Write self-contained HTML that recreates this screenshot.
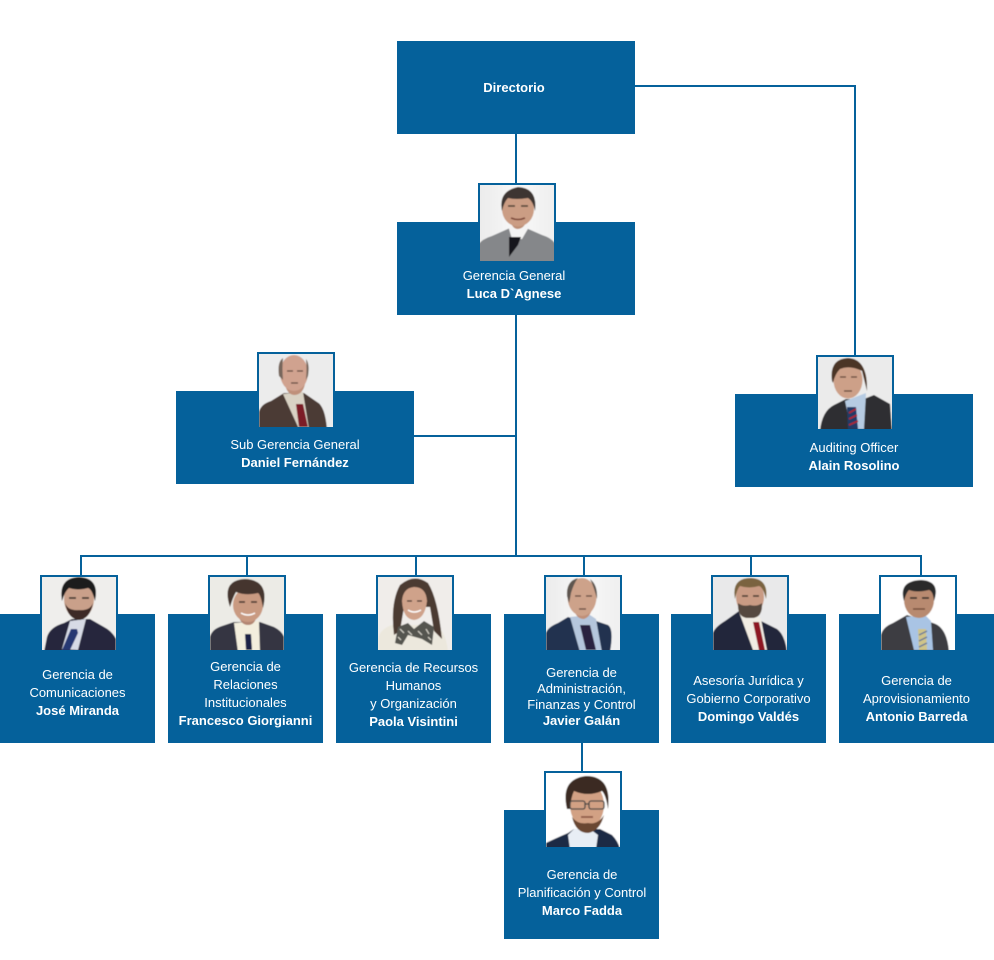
<!DOCTYPE html>
<html lang="es">
<head>
<meta charset="utf-8">
<title>Organigrama</title>
<style>
html,body{margin:0;padding:0;background:#fff;width:994px;height:960px;overflow:hidden}
svg.main{display:block}
text{font-family:"Liberation Sans",Arial,sans-serif;font-size:13px;fill:#fff;text-anchor:middle}
.b{font-weight:bold}
</style>
</head>
<body>
<svg class="main" xmlns="http://www.w3.org/2000/svg" width="994" height="960" viewBox="0 0 994 960">
<defs>
<filter id="s" x="-5%" y="-5%" width="110%" height="110%"><feGaussianBlur stdDeviation="0.6"/></filter>
<linearGradient id="gs" x1="0" y1="0" x2="1" y2="0"><stop offset="0" stop-color="#ebebeb"/><stop offset=".5" stop-color="#f8f8f8"/><stop offset="1" stop-color="#efefef"/></linearGradient>
</defs>
<rect width="994" height="960" fill="#fff"/>

<!-- connectors -->
<g fill="#05619b">
<rect x="515" y="134" width="2" height="50"/>
<rect x="635" y="85" width="221" height="2"/>
<rect x="854" y="85" width="2" height="271"/>
<rect x="515" y="315" width="2" height="242"/>
<rect x="414" y="435" width="102" height="2"/>
<rect x="80" y="555" width="842" height="2"/>
<rect x="80" y="555" width="2" height="21"/>
<rect x="246" y="555" width="2" height="21"/>
<rect x="415" y="555" width="2" height="21"/>
<rect x="583" y="555" width="2" height="21"/>
<rect x="750" y="555" width="2" height="21"/>
<rect x="920" y="555" width="2" height="21"/>
<rect x="581" y="743" width="2" height="29"/>

<!-- boxes -->
<rect x="397" y="41" width="238" height="93"/>
<rect x="397" y="222" width="238" height="93"/>
<rect x="176" y="391" width="238" height="93"/>
<rect x="735" y="394" width="238" height="93"/>
<rect x="0" y="614" width="155" height="129"/>
<rect x="168" y="614" width="155" height="129"/>
<rect x="336" y="614" width="155" height="129"/>
<rect x="504" y="614" width="155" height="129"/>
<rect x="671" y="614" width="155" height="129"/>
<rect x="839" y="614" width="155" height="129"/>
<rect x="504" y="810" width="155" height="129"/>

<!-- photo frames -->
<rect x="478" y="183" width="78" height="78"/>
<rect x="257" y="352" width="78" height="75"/>
<rect x="816" y="355" width="78" height="74"/>
<rect x="40" y="575" width="78" height="75"/>
<rect x="208" y="575" width="78" height="75"/>
<rect x="376" y="575" width="78" height="75"/>
<rect x="544" y="575" width="78" height="75"/>
<rect x="711" y="575" width="78" height="75"/>
<rect x="879" y="575" width="78" height="75"/>
<rect x="544" y="771" width="78" height="76"/>
</g>

<!-- Luca -->
<svg x="480" y="185" width="74" height="76" viewBox="0 0 74 76"><g filter="url(#s)">
<rect x="-2" y="-2" width="78" height="80" fill="url(#gs)"/>
<path d="M-2 78V60Q2 54 12 51L30 43H46L62 50Q72 53 76 60V78Z" fill="#85878a"/>
<path d="M29 44L32 54H42L49 42L46 34H30Z" fill="#f4f4f4"/>
<path d="M29 52H41L38 60L29 72Z" fill="#15181c"/>
<path d="M30 32Q31 44 38 44Q46 43 47 32Z" fill="#bd8f76"/>
<ellipse cx="38" cy="24" rx="16" ry="17.500" fill="#cb9d84"/>
<path d="M22 26Q18 6 38 2Q58 3 55 26Q53 16 48 13Q36 15 28 13Q24 17 22 26Z" fill="#3e3630"/>
<path d="M28 21h7M41 21h7" stroke="#4a3a30" stroke-width="1.400"/>
<path d="M31 33Q38 36 45 33" stroke="#7a4436" stroke-width="1.500" fill="none"/>
</g></svg>

<!-- Daniel -->
<svg x="259" y="354" width="74" height="73" viewBox="0 0 74 73"><g filter="url(#s)">
<rect x="-2" y="-2" width="78" height="78" fill="#ececec"/>
<path d="M0 75V58Q2 50 12 47L25 39H45L58 48Q66 52 68 75Z" fill="#4b3a34"/>
<path d="M24 40L40 75H50L44 38Z" fill="#d9d2c4"/>
<path d="M37 50H44L49 73H40Z" fill="#7c1d26"/>
<path d="M26 30Q28 41 36 41Q44 40 46 30Z" fill="#bf907a"/>
<ellipse cx="35" cy="19" rx="14" ry="18" fill="#d0a28f"/>
<path d="M20 22Q18 8 24 4Q23 14 24 26ZM49 22Q51 10 47 5Q48 14 47 26Z" fill="#77665c"/>
<path d="M28 17h6M38 17h6M32 29h7" stroke="#5c443a" stroke-width="1.300"/>
</g></svg>

<!-- Alain -->
<svg x="818" y="357" width="74" height="72" viewBox="0 0 74 72"><g filter="url(#s)">
<rect x="-2" y="-2" width="78" height="78" fill="#ebebeb"/>
<path d="M2 74Q4 54 16 48L28 42H46L56 38L72 47L74 74Z" fill="#2e2d30"/>
<path d="M27 44L33 72H46L48 36Z" fill="#b6cbe2"/>
<path d="M29 50H38L40 72H30Z" fill="#233a66"/>
<path d="M31 56L38 52M31 62L39 58M31 68L40 64" stroke="#b1262e" stroke-width="1.600"/>
<ellipse cx="30" cy="23" rx="14.500" ry="18.500" fill="#cda088"/>
<path d="M14 24Q11 2 30 1Q50 2 49 34Q46 22 44 14Q32 8 22 12Q17 17 15 26Z" fill="#4c3527"/>
<path d="M22 20h6M33 20h6M26 34h8" stroke="#5a3c30" stroke-width="1.200"/>
</g></svg>

<!-- José -->
<svg x="42" y="577" width="74" height="73" viewBox="0 0 74 73"><g filter="url(#s)">
<rect x="-2" y="-2" width="78" height="78" fill="#efeeec"/>
<path d="M2 75L5 60Q8 50 22 46L30 42H48L62 50Q70 54 74 62V75Z" fill="#25283c"/>
<path d="M20 72L28 44L44 42L36 73Z" fill="#d7dbe6"/>
<path d="M29 52H35L36 56L28 73H20Z" fill="#273773"/>
<ellipse cx="37" cy="22" rx="15" ry="20" fill="#c9a08a"/>
<path d="M23 26Q26 42 37 43Q48 42 51 26Q48 34 37 33Q26 34 23 26Z" fill="#3c2b25"/>
<path d="M20 24Q16 1 37 0Q58 1 53 24Q50 12 46 11Q36 14 27 11Q23 14 20 24Z" fill="#1f1a1a"/>
<path d="M27 21h7M40 21h7" stroke="#26201e" stroke-width="1.400"/>
</g></svg>

<!-- Francesco -->
<svg x="210" y="577" width="74" height="73" viewBox="0 0 74 73"><g filter="url(#s)">
<rect x="-2" y="-2" width="78" height="78" fill="#ecebe6"/>
<path d="M0 75V60Q2 52 12 49L24 45H50L64 50Q72 54 74 60V75Z" fill="#363643"/>
<path d="M24 46L28 75H50L49 44Z" fill="#f3eedd"/>
<path d="M35 57H41L42 73H36Z" fill="#1c2246"/>
<path d="M28 36Q30 48 38 48Q46 48 47 36Z" fill="#b38672"/>
<ellipse cx="38" cy="28" rx="15" ry="17" fill="#c99a81"/>
<path d="M20 30Q11 3 35 2Q60 3 53 31Q51 18 48 16Q36 19 26 15Q23 20 20 30Z" fill="#44362e"/>
<path d="M29 25h6M41 25h6" stroke="#3a2c25" stroke-width="1.400"/>
<path d="M31 36Q38 40 45 36" stroke="#fff" stroke-width="1.500" fill="none"/>
</g></svg>

<!-- Paola -->
<svg x="378" y="577" width="74" height="73" viewBox="0 0 74 73"><g filter="url(#s)">
<rect x="-2" y="-2" width="78" height="78" fill="#f0edea"/>
<path d="M0 75V62Q2 52 14 48L56 48Q68 52 70 75Z" fill="#ece8dd"/>
<path d="M16 58Q12 26 22 8Q36 -4 50 6Q60 22 64 62L56 54L52 30L26 30L22 54Z" fill="#4c3a30"/>
<path d="M24 24Q25 42 36 43Q47 42 49 24Q48 10 36 10Q25 11 24 24Z" fill="#cfa28a"/>
<path d="M30 46L20 50L17 66L24 68L30 58L44 62L54 68L56 50L46 44L36 52Z" fill="#55544f"/>
<path d="M22 52l4 4M30 54l4 4M40 54l4 4M48 52l3 5M20 60l3 3M50 60l3 3" stroke="#d6d2c8" stroke-width="1.200"/>
<path d="M30 33Q36 37 43 33" stroke="#fff" stroke-width="1.500" fill="none"/>
<path d="M29 24h5M39 24h5" stroke="#3a2a22" stroke-width="1.200"/>
</g></svg>

<!-- Javier -->
<svg x="546" y="577" width="74" height="73" viewBox="0 0 74 73"><g filter="url(#s)">
<rect x="-2" y="-2" width="78" height="78" fill="url(#gs)"/>
<path d="M0 75V56Q2 50 12 46L22 40L34 44L50 44L62 48Q68 52 64 75Z" fill="#20324f"/>
<path d="M24 40L34 75H56L50 42L44 38Z" fill="#b5c6dc"/>
<path d="M34 48H44L50 73H40Z" fill="#2b2440"/>
<path d="M28 32Q30 42 38 42Q44 40 46 32Z" fill="#c09079"/>
<ellipse cx="36" cy="20" rx="14.500" ry="19" fill="#cda28a"/>
<path d="M21 19Q20 4 32 1Q28 6 25 16Q24 22 23 26ZM44 2Q52 8 51 22Q48 10 44 2Z" fill="#5f564f"/>
<path d="M29 19h6M40 19h6M33 32h7" stroke="#5a4238" stroke-width="1.300"/>
</g></svg>

<!-- Domingo -->
<svg x="713" y="577" width="74" height="73" viewBox="0 0 74 73"><g filter="url(#s)">
<rect x="-2" y="-2" width="78" height="78" fill="#e9e9ea"/>
<path d="M0 75V56Q2 50 12 44L26 34L48 44L64 52Q72 58 74 75Z" fill="#23253a"/>
<path d="M26 35L40 73H54L48 42L42 36Z" fill="#f1ece3"/>
<path d="M40 45H46L52 73H46Z" fill="#8e1622"/>
<ellipse cx="37" cy="20" rx="14" ry="18" fill="#c99b84"/>
<path d="M25 26Q24 42 37 41Q50 42 49 26Q44 30 37 28Q30 30 25 26Z" fill="#574a40"/>
<path d="M22 22Q18 1 38 1Q56 2 53 22Q50 10 46 9Q36 12 27 9Q24 12 22 22Z" fill="#7a6440"/>
<path d="M29 19h6M40 19h6" stroke="#3f3028" stroke-width="1.400"/>
</g></svg>

<!-- Antonio -->
<svg x="881" y="577" width="74" height="73" viewBox="0 0 74 73"><g filter="url(#s)">
<rect x="-2" y="-2" width="78" height="78" fill="#fff"/>
<path d="M0 75V58Q2 50 12 46L26 38L52 46Q66 50 68 75Z" fill="#3d3d42"/>
<path d="M25 40L33 73H52L50 44L44 38Z" fill="#a9c4e4"/>
<path d="M37 52H45L46 73H38Z" fill="#cfc48a"/>
<path d="M38 58L46 54M38 64L46 60M38 70L46 66" stroke="#66789a" stroke-width="1.300"/>
<ellipse cx="38" cy="23" rx="15" ry="18" fill="#b88a70"/>
<path d="M23 24Q17 4 40 3Q60 4 53 24Q52 14 48 13Q36 16 28 13Q25 16 23 24Z" fill="#2a2a2c"/>
<path d="M29 21h7M41 21h7" stroke="#222" stroke-width="1.600"/>
<path d="M32 32h12" stroke="#6a4436" stroke-width="1.300"/>
</g></svg>

<!-- Marco -->
<svg x="546" y="773" width="74" height="74" viewBox="0 0 74 74"><g filter="url(#s)">
<rect x="-2" y="-2" width="78" height="78" fill="#fff"/>
<path d="M0 76V70Q8 66 22 60L28 56H54L66 62Q72 68 74 76Z" fill="#1f2a44"/>
<path d="M22 62L24 76H50L52 62L44 56H28Z" fill="#e8eef5"/>
<ellipse cx="41" cy="32" rx="17" ry="23" fill="#d2a184"/>
<path d="M26 44Q30 60 42 60Q54 58 58 42Q52 52 42 50Q32 52 26 44Z" fill="#6a4630"/>
<path d="M21 36Q14 6 40 3Q66 3 62 36Q60 22 56 18Q42 24 28 18Q25 24 24 36Z" fill="#3a2a20"/>
<rect x="24" y="28" width="15" height="8" rx="2" fill="none" stroke="#444" stroke-width="1.300"/>
<rect x="43" y="28" width="15" height="8" rx="2" fill="none" stroke="#444" stroke-width="1.300"/>
<path d="M39 31h4" stroke="#444" stroke-width="1.300"/>
<path d="M35 44h12" stroke="#8f5a46" stroke-width="1.800"/>
</g></svg>

<!-- labels -->
<text class="b" x="514" y="92">Directorio</text>
<text x="514" y="280">Gerencia General</text>
<text class="b" x="514" y="298">Luca D`Agnese</text>
<text x="295" y="449">Sub Gerencia General</text>
<text class="b" x="295" y="467">Daniel Fernández</text>
<text x="854" y="452">Auditing Officer</text>
<text class="b" x="854" y="470">Alain Rosolino</text>

<text x="77.500" y="679">Gerencia de</text>
<text x="77.500" y="697">Comunicaciones</text>
<text class="b" x="77.500" y="715">José Miranda</text>

<text x="245.500" y="671">Gerencia de</text>
<text x="245.500" y="689">Relaciones</text>
<text x="245.500" y="707">Institucionales</text>
<text class="b" x="245.500" y="725">Francesco Giorgianni</text>

<text x="413.500" y="672">Gerencia de Recursos</text>
<text x="413.500" y="690">Humanos</text>
<text x="413.500" y="708">y Organización</text>
<text class="b" x="413.500" y="726">Paola Visintini</text>

<text x="581.500" y="677">Gerencia de</text>
<text x="581.500" y="693">Administración,</text>
<text x="581.500" y="709">Finanzas y Control</text>
<text class="b" x="581.500" y="725">Javier Galán</text>

<text x="748.500" y="685">Asesoría Jurídica y</text>
<text x="748.500" y="703">Gobierno Corporativo</text>
<text class="b" x="748.500" y="721">Domingo Valdés</text>

<text x="916.500" y="685">Gerencia de</text>
<text x="916.500" y="703">Aprovisionamiento</text>
<text class="b" x="916.500" y="721">Antonio Barreda</text>

<text x="582" y="879">Gerencia de</text>
<text x="582" y="897">Planificación y Control</text>
<text class="b" x="582" y="915">Marco Fadda</text>
</svg>
</body>
</html>
